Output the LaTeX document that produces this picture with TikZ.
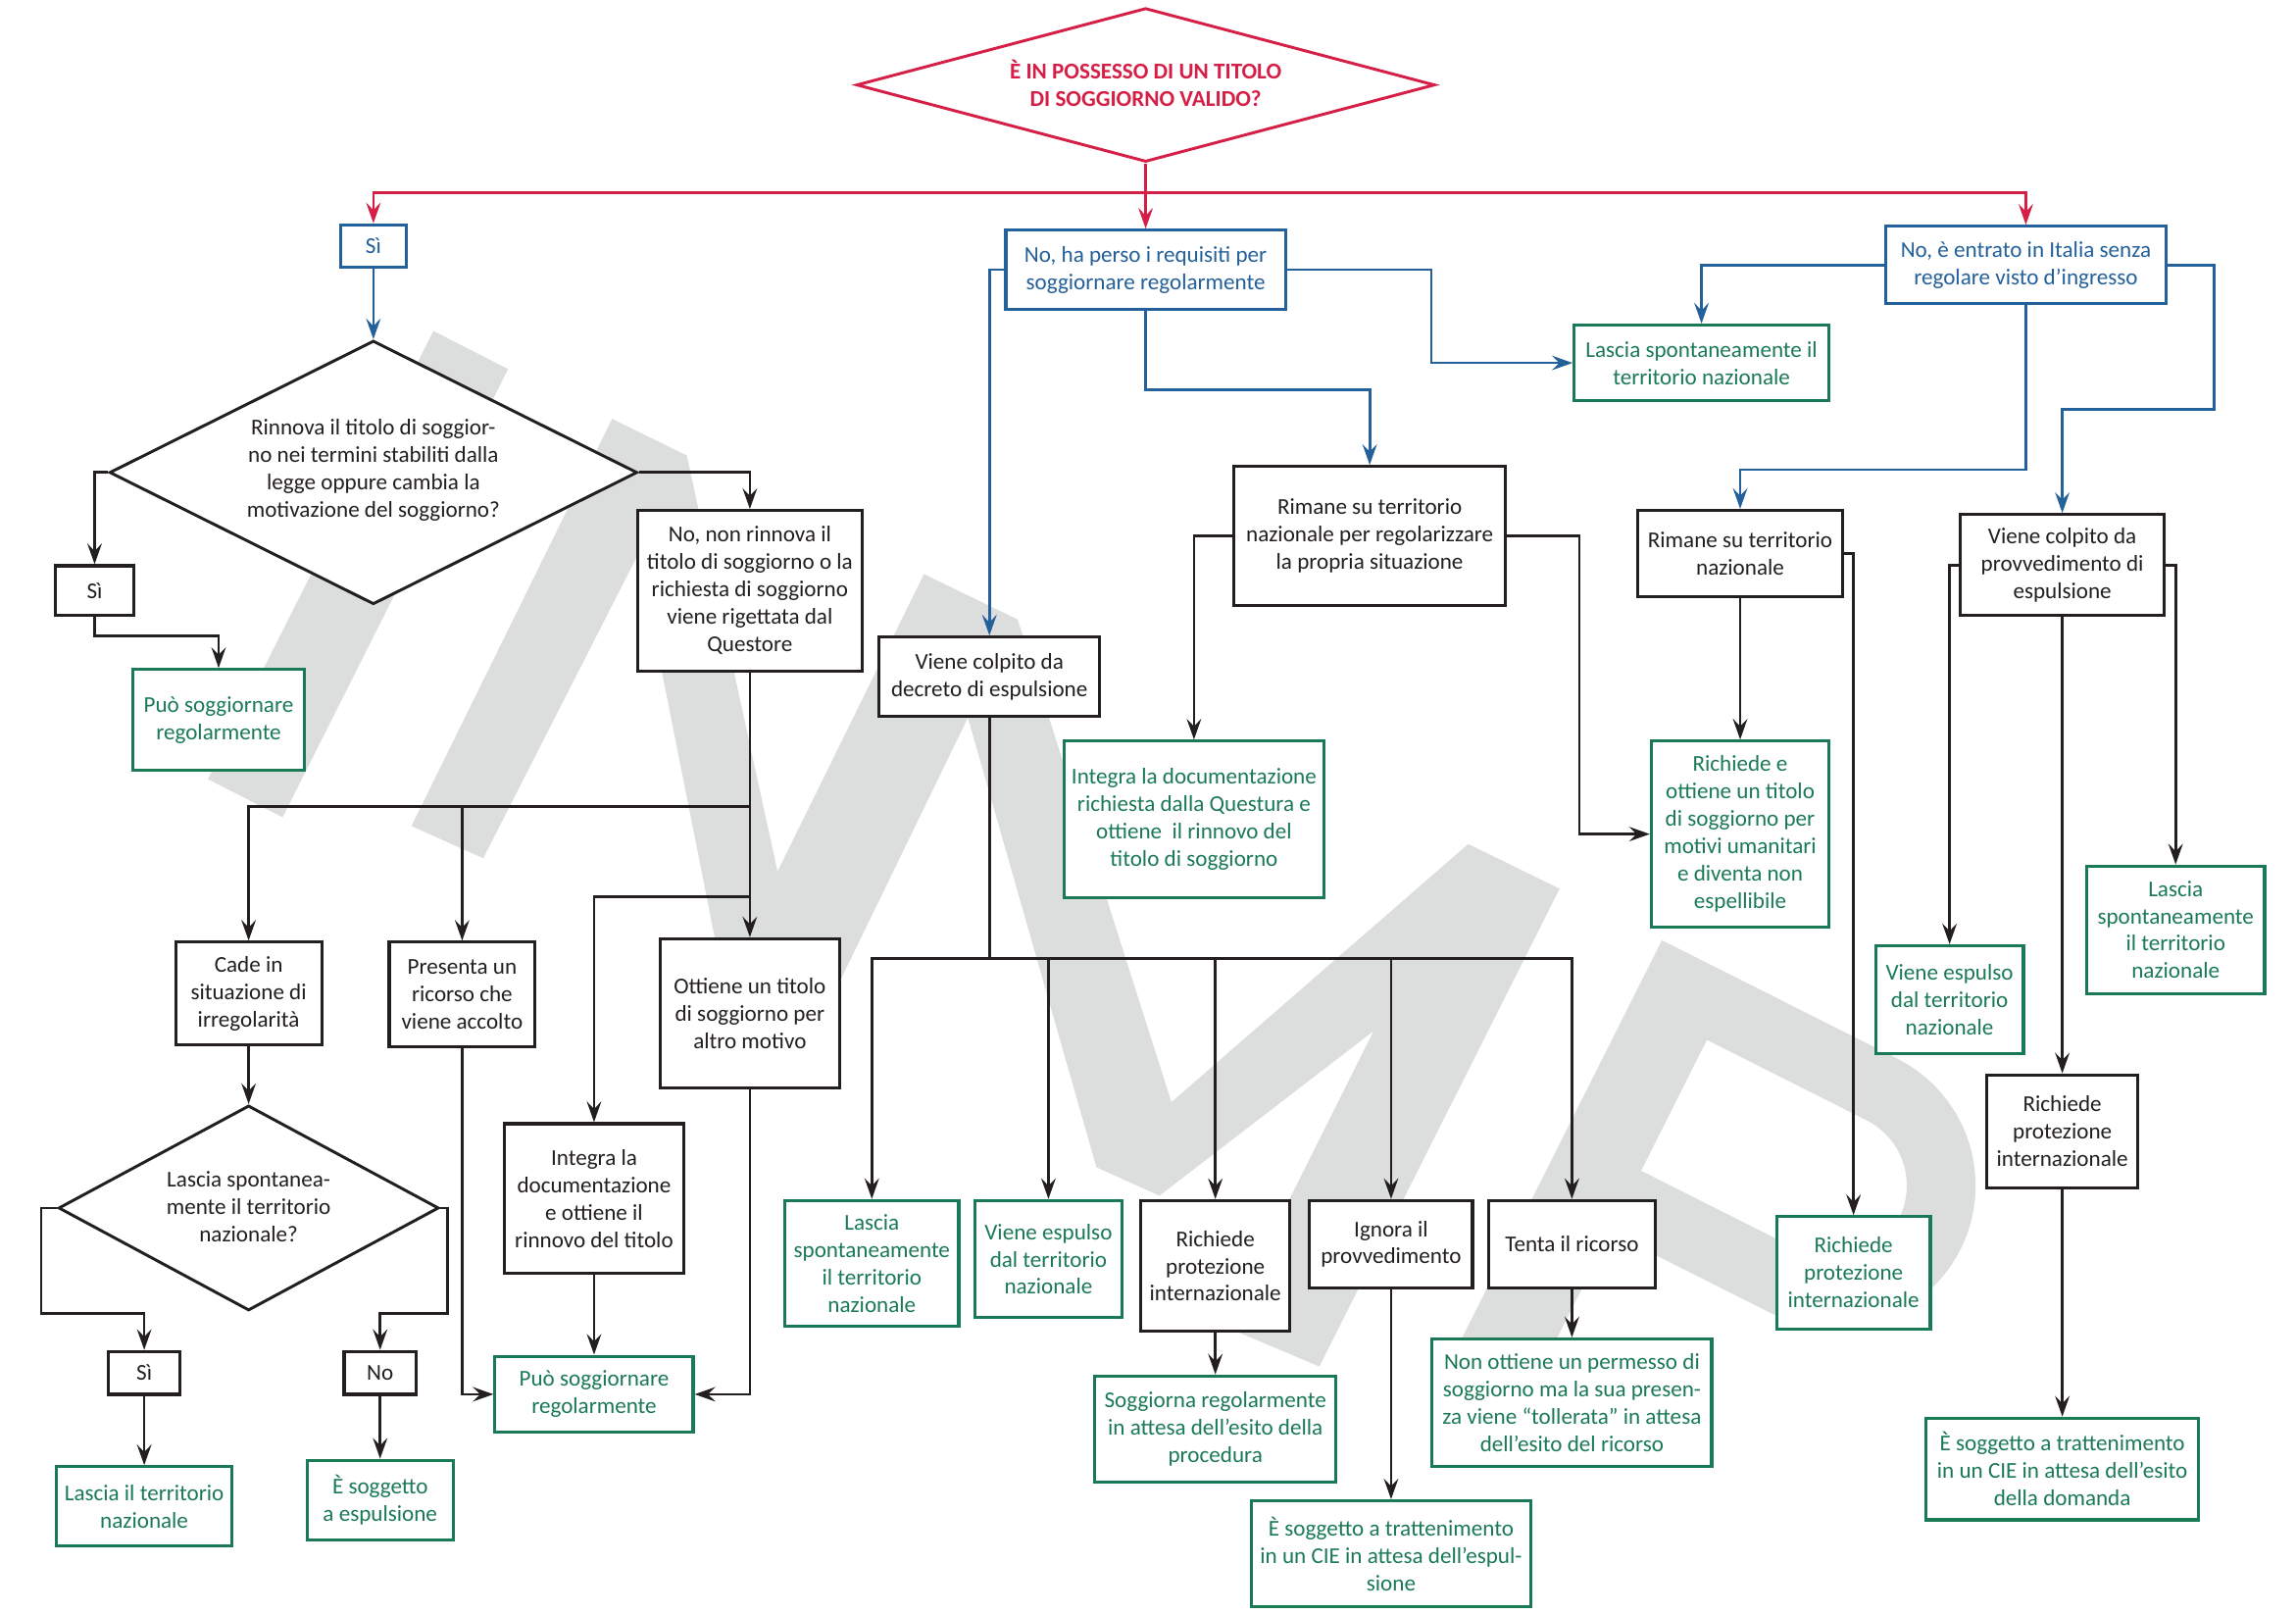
\documentclass[tikz,border=0pt]{standalone}
\usepackage{fontspec}
\setmainfont{Carlito}
\usetikzlibrary{arrows.meta,shapes.geometric}
\definecolor{cred}{HTML}{D51F47}
\definecolor{cblue}{HTML}{24609A}
\definecolor{cgreen}{HTML}{1B7A56}
\definecolor{cblack}{HTML}{231F20}
\definecolor{cwm}{HTML}{DCDDDD}
\begin{document}
\begin{tikzpicture}[x=0.025cm,y=-0.025cm,
  txt/.style={font=\fontsize{11}{13.3}\selectfont, align=center},
  blackbox/.style={txt, draw=cblack, text=cblack, fill=white, line width=1.5pt, inner sep=0pt},
  greenbox/.style={blackbox, draw=cgreen, text=cgreen},
  bluebox/.style={blackbox, draw=cblue, text=cblue},
  bw/.style={minimum width=#1*0.025cm},
  bh/.style={minimum height=#1*0.025cm},
  dia/.style={diamond, draw=cblack, fill=white, line width=1.4pt, inner sep=0pt},
  ln/.style={line width=1.3pt, draw=cblack},
  arr/.style={ln, -{Stealth[length=10pt,width=7pt,inset=3.6pt]}},
  barr/.style={arr, draw=cblue},
  rarr/.style={arr, draw=cred},
]
\fill[white] (0,0) rectangle (1568,1102);
\useasboundingbox (0,0) rectangle (1568,1102);

% watermark
\fill[cwm] (296,226) -- (347,252) -- (193,558) -- (142,532) -- cycle;
\fill[cwm] (281,564) -- (418,286) -- (469,311) -- (531,595) -- (631,392) -- (695,423)
  -- (800,752.5) -- (1002.7,576.3) -- (1065.1,606.8) -- (901,933) -- (837,906)
  -- (938,704) -- (791.8,816.4) -- (748.8,797) -- (661,490) -- (559,700) -- (500,700)
  -- (436,378) -- (330,586) -- cycle;
\begin{scope}[shift={(1135,642)}, rotate=-26.7]
\fill[cwm, even odd rule] (0,0) -- (180,0)
  -- plot[domain=-90:90, samples=40] ({180+97*cos(\x)}, {97+97*sin(\x)})
  -- (58,194) -- (58,314) -- (0,314) -- cycle
  (58,47) -- (180,47)
  -- plot[domain=-90:90, samples=40] ({180+50*cos(\x)}, {97+50*sin(\x)})
  -- (58,147) -- cycle;
\end{scope}

% top
\node[dia, draw=cred, bw=395, bh=105] (d0) at (782.4,58) {};
\node[txt, text=cred, font=\fontsize{11}{13.5}\selectfont\bfseries] (d0t) at (782.4,57) {È IN POSSESSO DI UN TITOLO\\DI SOGGIORNO VALIDO?};
\coordinate (rj) at (782.4,131.7);
\node[bluebox, bw=45, bh=29] (s1) at (255,168) {Sì};
\node[bluebox, bw=191, bh=54] (nb1) at (782.4,184.2) {No, ha perso i requisiti per\\soggiornare regolarmente};
\node[bluebox, bw=191, bh=53] (nb2) at (1383.5,181) {No, è entrato in Italia senza\\regolare visto d’ingresso};
\draw[rarr] (d0.south) -- (nb1.north);
\draw[rarr] (rj) -| (s1.north);
\draw[rarr] (rj) -| (nb2.north);

% left branch
\node[dia, bw=360.5, bh=180] (d2) at (255,322.6) {};
\node[txt, text=cblack] (d2t) at (255,321) {Rinnova il titolo di soggior-\\no nei termini stabiliti dalla\\legge oppure cambia la\\motivazione del soggiorno?};
\draw[barr] (s1.south) -- (d2.north);
\node[blackbox, bw=53.8, bh=34] (s2) at (64.6,403.3) {Sì};
\node[greenbox, bw=117.2, bh=68.7] (pr1) at (149.3,491.5) {Può soggiornare\\regolarmente};
\node[blackbox, bw=153.4, bh=109.4] (nr) at (512.1,403.3) {No, non rinnova il\\titolo di soggiorno o la\\richiesta di soggiorno\\viene rigettata dal\\Questore};
\draw[arr] (d2.west) -| (s2.north);
\draw[arr] (s2.south) -- ++(0,12.6) -| (pr1.north);
\draw[arr] (d2.east) -| (nr.north);

\node[blackbox, bw=122.6, bh=102] (ott) at (512.1,692) {Ottiene un titolo\\di soggiorno per\\altro motivo};
\node[blackbox, bw=99.8, bh=70] (cade) at (169.8,678.3) {Cade in\\situazione di\\irregolarità};
\node[blackbox, bw=99.7, bh=71.3] (pres) at (315.6,679) {Presenta un\\ricorso che\\viene accolto};
\node[blackbox, bw=123, bh=102.3] (integ) at (405.7,818.4) {Integra la\\documentazione\\e ottiene il\\rinnovo del titolo};
\node[greenbox, bw=135.3, bh=52] (pr2) at (405.7,952) {Può soggiornare\\regolarmente};
\coordinate (j2) at (512.1,550.6);
\coordinate (j3) at (512.1,612.3);
\draw[arr] (nr.south) -- (ott.north);
\draw[arr] (j2) -| (cade.north);
\draw[arr] (j2) -| (pres.north);
\draw[arr] (j3) -| (integ.north);
\draw[arr] (pres.south) |- (pr2.west);
\draw[arr] (integ.south) -- (pr2.north);
\draw[arr] (ott.south) |- (pr2.east);

\node[dia, bw=259.7, bh=140] (d3) at (169.8,824.8) {};
\node[txt, text=cblack] (d3t) at (169.8,824) {Lascia spontanea-\\mente il territorio\\nazionale?};
\draw[arr] (cade.south) -- (d3.north);
\node[blackbox, bw=49.2, bh=29.3] (s3) at (98.5,937.4) {Sì};
\node[blackbox, bw=49.2, bh=29.3] (no3) at (259.6,937.4) {No};
\node[greenbox, bw=119.9, bh=54] (lit) at (98.5,1028.5) {Lascia il territorio\\nazionale};
\node[greenbox, bw=99.8, bh=54.2] (espn) at (259.6,1024.1) {È soggetto\\a espulsione};
\draw[arr] (d3.west) -- ++(-10.9,0) -- ++(0,71.9) -| (s3.north);
\draw[arr] (d3.east) -- ++(5,0) -- ++(0,71.9) -| (no3.north);
\draw[arr] (s3.south) -- (lit.north);
\draw[arr] (no3.south) -- (espn.north);

% middle branch
\node[blackbox, bw=150.7, bh=54] (decr) at (675.7,462) {Viene colpito da\\decreto di espulsione};
\draw[barr] (nb1.west) -| (decr.north);
\node[greenbox, bw=174, bh=51.6] (lg1) at (1162,247.8) {Lascia spontaneamente il\\territorio nazionale};
\draw[barr] (nb1.east) -- ++(98.6,0) |- (lg1.west);
\node[blackbox, bw=185.6, bh=95] (rim1) at (935.4,366) {Rimane su territorio\\nazionale per regolarizzare\\la propria situazione};
\draw[barr] (nb1.south) -- ++(0,53.8) -| (rim1.north);
\node[greenbox, bw=177.6, bh=107] (intq) at (815.4,559.5) {Integra la documentazione\\richiesta dalla Questura e\\ottiene~ il rinnovo del\\titolo di soggiorno};
\node[greenbox, bw=121.3, bh=127] (rich) at (1188.4,569.5) {Richiede e\\ottiene un titolo\\di soggiorno per\\motivi umanitari\\e diventa non\\espellibile};
\draw[arr] (rim1.west) -| (intq.north);
\draw[arr] (rim1.east) -- ++(49.3,0) |- (rich.west);

\coordinate (jd) at (675.7,654.4);
\draw[ln] (decr.south) -- (jd);
\node[greenbox, bw=118.8, bh=86] (b1) at (595.4,862.7) {Lascia\\spontaneamente\\il territorio\\nazionale};
\node[greenbox, bw=100, bh=80] (b2) at (716,859.7) {Viene espulso\\dal territorio\\nazionale};
\node[blackbox, bw=101.7, bh=89.3] (b3) at (830,864.4) {Richiede\\protezione\\internazionale};
\node[blackbox, bw=111.2, bh=59.6] (b4) at (950,849.5) {Ignora il\\provvedimento};
\node[blackbox, bw=114.2, bh=59.6] (b5) at (1073.5,849.5) {Tenta il ricorso};
\draw[arr] (jd) -| (b1.north);
\draw[arr] (jd) -| (b2.north);
\draw[arr] (jd) -| (b3.north);
\draw[arr] (jd) -| (b4.north);
\draw[arr] (jd) -| (b5.north);
\node[greenbox, bw=164.8, bh=72.6] (sogg) at (830,975.8) {Soggiorna regolarmente\\in attesa dell’esito della\\procedura};
\node[greenbox, bw=191.2, bh=72.3] (cie1) at (950,1060.9) {È soggetto a trattenimento\\in un CIE in attesa dell’espul-\\sione};
\node[greenbox, bw=191, bh=87] (nonott) at (1073.5,957.7) {Non ottiene un permesso di\\soggiorno ma la sua presen-\\za viene “tollerata” in attesa\\dell’esito del ricorso};
\draw[arr] (b3.south) -- (sogg.north);
\draw[arr] (b4.south) -- (cie1.north);
\draw[arr] (b5.south) -- (nonott.north);

% right branch
\node[blackbox, bw=140, bh=59] (rim2) at (1188.4,378) {Rimane su territorio\\nazionale};
\node[blackbox, bw=139.6, bh=69] (prov) at (1408.4,385.8) {Viene colpito da\\provvedimento di\\espulsione};
\draw[barr] (nb2.west) -| (lg1.north);
\draw[barr] (nb2.east) -- ++(32,0) -- ++(0,98.5) -| (prov.north);
\draw[barr] (nb2.south) -- ++(0,112.2) -| (rim2.north);
\draw[arr] (rim2.south) -- (rich.north);
\node[greenbox, bw=105, bh=76.5] (rpg) at (1265.8,869) {Richiede\\protezione\\internazionale};
\draw[arr] (rim2.east) -| (rpg.north);
\node[greenbox, bw=101, bh=73.5] (vesp2) at (1331.4,682.5) {Viene espulso\\dal territorio\\nazionale};
\node[greenbox, bw=121.6, bh=87] (lasc2) at (1485.8,634.8) {Lascia\\spontaneamente\\il territorio\\nazionale};
\node[blackbox, bw=102.9, bh=77] (rpb) at (1408.4,772.4) {Richiede\\protezione\\internazionale};
\node[greenbox, bw=186.3, bh=69.4] (cie2) at (1408.4,1003) {È soggetto a trattenimento\\in un CIE in attesa dell’esito\\della domanda};
\draw[arr] (prov.west) -| (vesp2.north);
\draw[arr] (prov.east) -| (lasc2.north);
\draw[arr] (prov.south) -- (rpb.north);
\draw[arr] (rpb.south) -- (cie2.north);
\end{tikzpicture}
\end{document}
